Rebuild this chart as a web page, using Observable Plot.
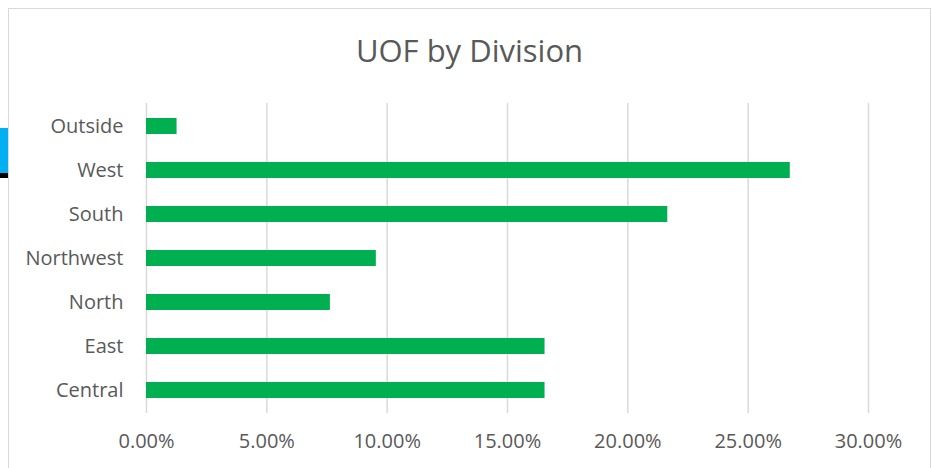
<!DOCTYPE html>
<html><head><meta charset="utf-8">
<script src="https://cdn.jsdelivr.net/npm/d3@7"></script>
<script src="https://cdn.jsdelivr.net/npm/@observablehq/plot@0.6"></script>
<style>
body{margin:0;background:#fff;}
#wrap{position:relative;width:931px;height:468px;overflow:hidden;font-family:"Open Sans",sans-serif;background:#fff;}
#frame{position:absolute;left:8px;top:8px;width:923px;height:500px;border:1px solid #d9d9d9;box-sizing:border-box;}
#title{position:absolute;left:8px;width:923px;top:32px;text-align:center;font-size:31px;line-height:36px;color:#595959;}
#chart{position:absolute;left:0;top:0;}
.blue{position:absolute;left:0;top:128px;width:8px;height:45px;background:#00b0f0;}
.black{position:absolute;left:0;top:173px;width:8px;height:5px;background:#000;}
</style></head>
<body>
<div id="wrap">
  <div class="blue"></div><div class="black"></div>
  <div id="frame"></div>
  <div id="title">UOF by Division</div>
  <div id="chart"></div>
</div>
<script>
const divisions = ["Outside", "West", "South", "Northwest", "North", "East", "Central"];
const shares = [0.0127, 0.2675, 0.2166, 0.0955, 0.0764, 0.1656, 0.1656];
const xTicks = [0, 0.05, 0.10, 0.15, 0.20, 0.25, 0.30];

const rows = divisions.map((d, i) => ({division: d, share: shares[i]}));

const chart = Plot.plot({
  width: 931,
  height: 468,
  marginTop: 103,
  marginBottom: 55,
  marginLeft: 146,
  marginRight: 63,
  style: {fontFamily: "Open Sans, sans-serif", fontSize: "20px", color: "#595959", background: "transparent", overflow: "visible"},
  x: {domain: [0, 0.30], ticks: xTicks, tickFormat: d => (d * 100).toFixed(2) + "%", tickSize: 0, tickPadding: 20, label: null},
  y: {domain: divisions, paddingInner: 0.64, paddingOuter: 0.32, tickSize: 0, tickPadding: 23, label: null},
  marks: [
    Plot.gridX(xTicks, {stroke: "#d9d9d9", strokeOpacity: 1, strokeWidth: 1.5}),
    Plot.barX(rows, {x: "share", y: "division", fill: "#00b050"})
  ]
});
document.getElementById("chart").appendChild(chart);
</script>
</body></html>
